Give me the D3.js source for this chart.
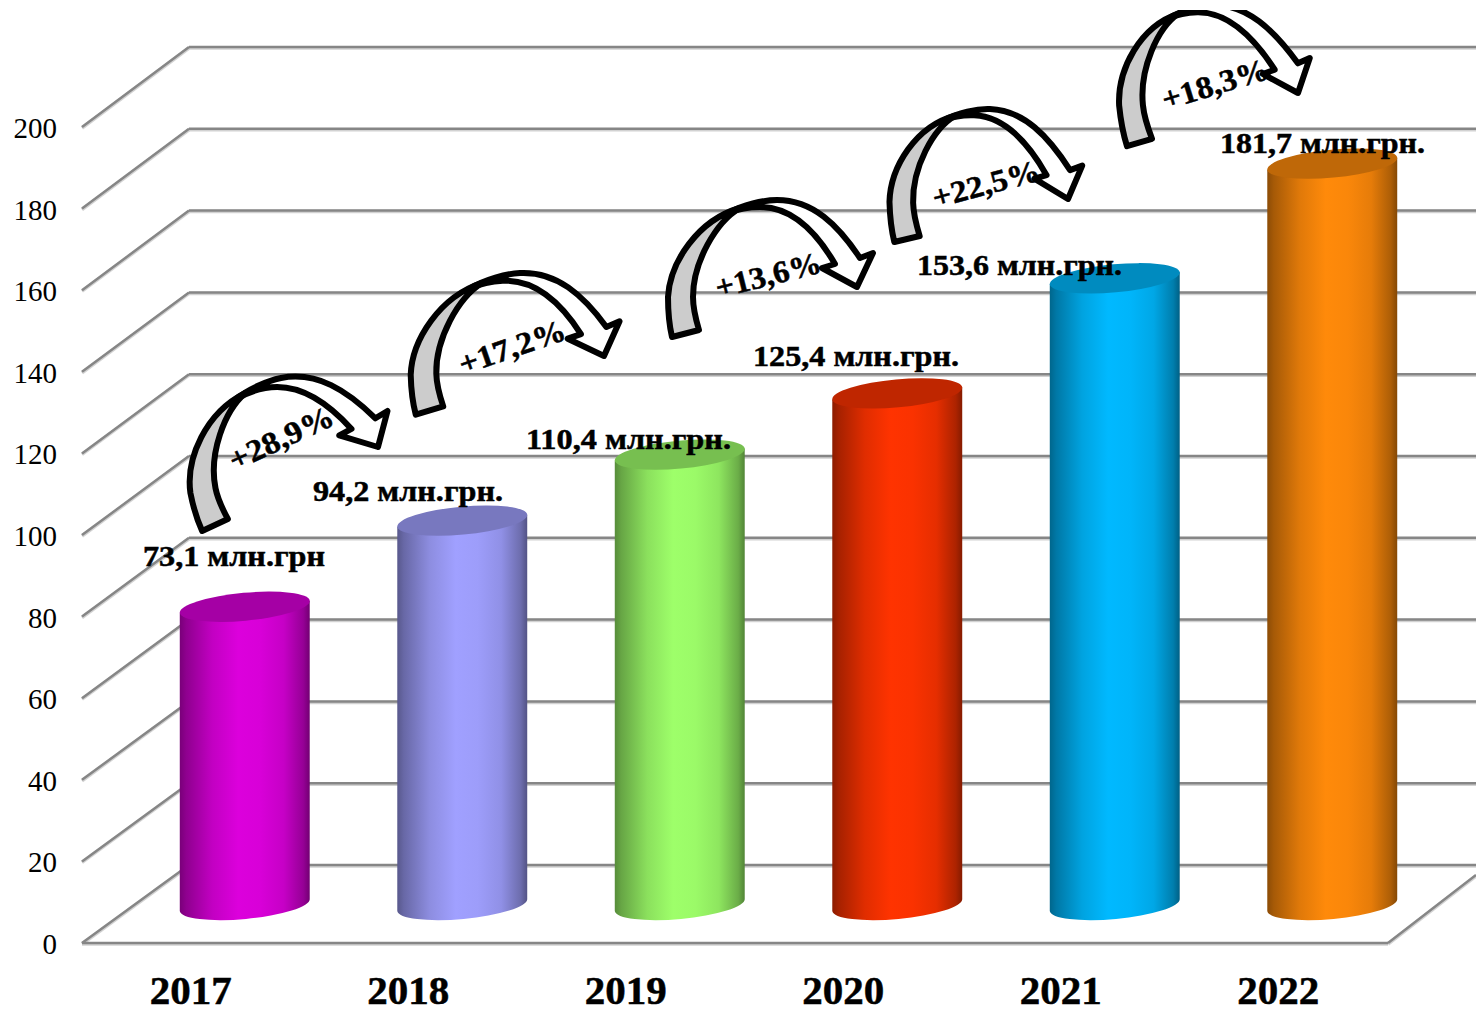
<!DOCTYPE html>
<html>
<head>
<meta charset="utf-8">
<script src="https://cdn.jsdelivr.net/npm/d3@7"></script>
<style>
  html, body { margin: 0; padding: 0; background: #fff; overflow: hidden; }
  text { font-family: 'Liberation Serif', serif; fill: #000; }
  .heavy { stroke: #000; stroke-width: 0.5px; }
</style>
</head>
<body>
<div id="chart"></div>
<script>
const years = ['2017', '2018', '2019', '2020', '2021', '2022'];
const values = [73.1, 94.2, 110.4, 125.4, 153.6, 181.7];
const valueLabels = ['73,1 млн.грн', '94,2 млн.грн.', '110,4 млн.грн.', '125,4 млн.грн.', '153,6 млн.грн.', '181,7 млн.грн.'];
const growthLabels = ['+28,9%', '+17,2%', '+13,6%', '+22,5%', '+18,3%'];
const yTicks = [0, 20, 40, 60, 80, 100, 120, 140, 160, 180, 200];
const barColors = ['#dc00dc', '#a0a0ff', '#9eff6a', '#ff3300', '#00b9ff', '#ff8a0a'];

// hand placed annotations, same as the drawn shapes on the original slide
const labelBoxes = [[143, 566, 182], [313, 501, 190], [526, 449, 205], [753, 366, 206], [917, 275, 205], [1220, 153, 205]];
// tail, arrow tip and crest of each curved arrow
const arrowAnchors = [
  [[215, 525], [378, 447], [281, 378]],
  [[429.5, 410.5], [604, 356], [520, 273]],
  [[685.5, 333.5], [857, 287], [777, 200]],
  [[907, 239], [1068, 199], [990, 109]],
  [[1139.5, 142.5], [1298, 93], [1213, 5]]
];
const growthBoxes = [[281, 438, -25, 112], [512, 347, -19, 111], [768, 275, -14, 108], [986, 184, -15, 110], [1215, 84, -17, 110]];

const W = 1476, H = 1009;
const svg = d3.select('#chart').append('svg').attr('width', W).attr('height', H);
const defs = svg.append('defs');

const y = d3.scaleLinear().domain([0, 200]).range([943, 127]);
const yBack = d3.scaleLinear().domain([0, 200]).range([865, 47]);
const yBar = d3.scaleLinear().domain([0, 200]).range([905, 89]);
const xFront = d3.scaleBand().domain(years).range([83, 1388]);
const xBar = d3.scaleBand().domain(years).range([136, 1441]).paddingInner(0.4).paddingOuter(0.2);
const backX = 189;

// walls, second pass gives the soft shadow under the lines
[['#d2d2d2', 3.5, 1], ['#868686', 2.5, 0]].forEach(([stroke, sw, off]) => {
  const grid = svg.append('g').attr('stroke', stroke).attr('stroke-width', sw)
    .attr('fill', 'none').attr('transform', `translate(0,${off})`);
  grid.selectAll('.back').data(yTicks).join('line').attr('class', 'back')
    .attr('x1', backX).attr('x2', W).attr('y1', d => yBack(d)).attr('y2', d => yBack(d));
  grid.selectAll('.diag').data(yTicks).join('line').attr('class', 'diag')
    .attr('x1', 82).attr('x2', backX).attr('y1', d => y(d)).attr('y2', d => yBack(d));
  grid.append('line').attr('x1', 82).attr('x2', 1388).attr('y1', y(0)).attr('y2', y(0));
  grid.append('line').attr('x1', 1388).attr('x2', W).attr('y1', y(0)).attr('y2', 875);
});

svg.selectAll('.tick-label').data(yTicks).join('text').attr('class', 'tick-label')
  .attr('x', 57).attr('y', d => y(d) + 11).attr('text-anchor', 'end')
  .attr('font-size', '29px').text(d => d);

svg.selectAll('.year').data(years).join('text').attr('class', 'year heavy')
  .attr('x', d => xFront(d) + xFront.bandwidth() / 2 - 1).attr('y', 1004).attr('text-anchor', 'middle')
  .attr('font-size', '41px').attr('font-weight', 700).text(d => d);

// cylinders
const rx = xBar.bandwidth() / 2, ry = 14, tilt = -5.3;
const dx = rx * Math.cos(tilt * Math.PI / 180), dy = rx * Math.sin(tilt * Math.PI / 180);

function shade(color, k) {
  return d3.interpolateRgb('#000', color)(k);
}

years.forEach((yr, i) => {
  const g = defs.append('linearGradient').attr('id', `cyl-${yr}`);
  [[0, 0.55], [0.05, 0.65], [0.25, 0.88], [0.45, 1], [0.62, 0.98], [0.8, 0.9], [0.95, 0.68], [1, 0.52]].forEach(([o, k]) => {
    g.append('stop').attr('offset', o).attr('stop-color', shade(barColors[i], k));
  });
});

const bars = svg.selectAll('.bar').data(years).join('g').attr('class', 'bar');
bars.append('path')
  .attr('fill', d => `url(#cyl-${d})`)
  .attr('d', (d, i) => {
    const cx = xBar(d) + rx, top = yBar(values[i]), base = yBar(0);
    return `M${cx - dx},${top - dy} L${cx + dx},${top + dy} L${cx + dx},${base + dy}` +
      `A${rx},${ry} ${tilt} 0 1 ${cx - dx},${base - dy} Z`;
  });
bars.append('ellipse')
  .attr('rx', rx).attr('ry', ry)
  .attr('fill', (d, i) => shade(barColors[i], 0.75))
  .attr('transform', (d, i) => `translate(${xBar(d) + rx},${yBar(values[i])}) rotate(${tilt})`);

svg.selectAll('.val').data(valueLabels).join('text').attr('class', 'val heavy')
  .attr('x', (d, i) => labelBoxes[i][0]).attr('y', (d, i) => labelBoxes[i][1])
  .attr('textLength', (d, i) => labelBoxes[i][2]).attr('lengthAdjust', 'spacingAndGlyphs')
  .attr('font-size', '29px').attr('font-weight', 700).text(d => d);

// curved arrow outline, traced once and mapped onto each arrow by its three anchors
const arrowBack = 'M4,137 C1,124 0,110 0,97 C2,62 30,20 72,8 C48,22 25,62 25,97 C25,110 28,120 31,130 Z';
const arrowFront = 'M60,13 C75,5 95,0 109,0 C145,0 170,25 192,58 L205,53 L189,87 L154,68 L167,64 ' +
  'C149,33 125,7 92,7 C80,7 70,9 60,13 Z';
const localTail = [17.5, 133.5], localTip = [189, 87], localTop = [109, 0];

function arrowMatrix([tail, tip, top]) {
  const ux = localTip[0] - localTail[0], uy = localTip[1] - localTail[1];
  const vx = localTop[0] - localTail[0], vy = localTop[1] - localTail[1];
  const det = ux * vy - uy * vx;
  const px = tip[0] - tail[0], py = tip[1] - tail[1];
  const qx = top[0] - tail[0], qy = top[1] - tail[1];
  const a = (px * vy - qx * uy) / det, c = (qx * ux - px * vx) / det;
  const b = (py * vy - qy * uy) / det, d = (qy * ux - py * vx) / det;
  const e = tail[0] - a * localTail[0] - c * localTail[1];
  const f = tail[1] - b * localTail[0] - d * localTail[1];
  return `matrix(${a},${b},${c},${d},${e},${f})`;
}

defs.append('clipPath').attr('id', 'arrow-clip').append('rect')
  .attr('x', 0).attr('y', 10).attr('width', W).attr('height', H);

const arrows = svg.append('g').attr('clip-path', 'url(#arrow-clip)')
  .selectAll('.arrow').data(arrowAnchors).join('g').attr('class', 'arrow')
  .attr('transform', arrowMatrix);
arrows.append('path').attr('d', arrowBack).attr('fill', '#cccccc');
arrows.append('path').attr('d', arrowFront).attr('fill', '#fff');
arrows.selectAll('path')
  .attr('stroke', '#000').attr('stroke-width', 6).attr('stroke-linejoin', 'round')
  .attr('vector-effect', 'non-scaling-stroke');

svg.selectAll('.growth').data(growthLabels).join('text').attr('class', 'growth heavy')
  .attr('transform', (d, i) => `translate(${growthBoxes[i][0]},${growthBoxes[i][1]}) rotate(${growthBoxes[i][2]})`)
  .attr('text-anchor', 'middle').attr('dy', '0.34em')
  .attr('textLength', (d, i) => growthBoxes[i][3]).attr('lengthAdjust', 'spacingAndGlyphs')
  .attr('font-size', '31px').attr('font-weight', 700).text(d => d);
</script>
</body>
</html>
